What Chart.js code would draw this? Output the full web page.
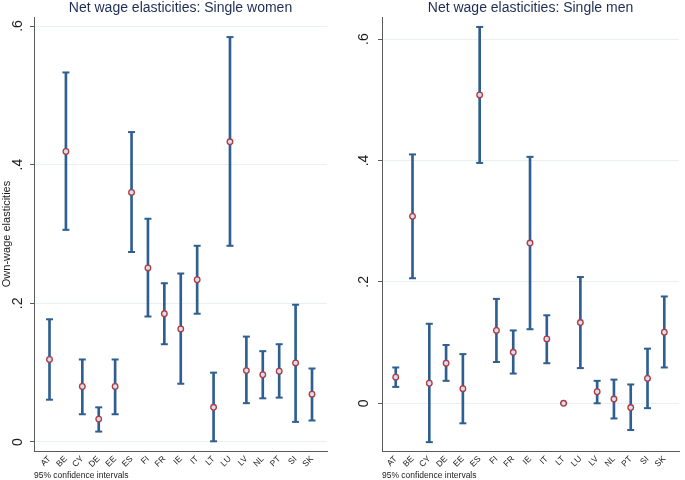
<!DOCTYPE html>
<html>
<head>
<meta charset="utf-8">
<script src="https://cdn.jsdelivr.net/npm/chart.js@4/dist/chart.umd.min.js"></script>
<style>
  html, body { margin: 0; padding: 0; background: #ffffff; }
  #wrap { position: relative; width: 685px; height: 480px; overflow: hidden; }
  #leftBox { position: absolute; left: 0; top: 0; width: 342px; height: 480px; }
  #rightBox { position: absolute; left: 342px; top: 0; width: 343px; height: 480px; }
</style>
</head>
<body>
<div id="wrap">
  <div id="leftBox"><canvas id="cWomen" width="342" height="480"></canvas></div>
  <div id="rightBox"><canvas id="cMen" width="343" height="480"></canvas></div>
</div>
<script>
// ---- data ----
const countries = ['AT','BE','CY','DE','EE','ES','FI','FR','IE','IT','LT','LU','LV','NL','PT','SI','SK'];

const womenEst = [0.119, 0.419, 0.080, 0.033, 0.080, 0.360, 0.251, 0.185, 0.163, 0.234, 0.050, 0.433, 0.103, 0.097, 0.102, 0.114, 0.069];
const womenLow = [0.061, 0.306, 0.040, 0.015, 0.040, 0.274, 0.181, 0.141, 0.084, 0.185, 0.001, 0.283, 0.056, 0.063, 0.064, 0.029, 0.031];
const womenHigh = [0.177, 0.533, 0.119, 0.050, 0.119, 0.447, 0.322, 0.229, 0.243, 0.283, 0.100, 0.584, 0.152, 0.131, 0.141, 0.198, 0.106];

const menEst = [0.043, 0.308, 0.033, 0.066, 0.024, 0.508, 0.120, 0.084, 0.264, 0.106, 0.000, 0.133, 0.019, 0.007, -0.007, 0.041, 0.117];
const menLow = [0.027, 0.206, -0.064, 0.037, -0.033, 0.396, 0.068, 0.049, 0.122, 0.066, 0.000, 0.058, 0.000, -0.025, -0.044, -0.008, 0.059];
const menHigh = [0.059, 0.410, 0.131, 0.096, 0.081, 0.620, 0.172, 0.120, 0.406, 0.145, 0.000, 0.208, 0.037, 0.039, 0.031, 0.090, 0.176];

const yTickValues = [0, 0.2, 0.4, 0.6];
const yTickLabels = ['0', '.2', '.4', '.6'];

const titleWomen = 'Net wage elasticities: Single women';
const titleMen = 'Net wage elasticities: Single men';
const yAxisTitle = 'Own-wage elasticities';
const noteText = '95% confidence intervals';

// ---- styling ----
const FONT = "'Liberation Sans', Arial, Helvetica, sans-serif";
const ERR_COLOR = '#2f5f90';
const MARK_BORDER = '#b03a45';
const MARK_FILL = '#d6dfe9';
const AXIS_COLOR = '#5a5a5a';
const GRID_COLOR = '#e8f0f0';
const TEXT_COLOR = '#1a1a1a';
const TITLE_COLOR = '#1e2d55';

function makeChart(canvasId, cfg) {
  const idx = countries.map((c, i) => i + 1);
  const bars = idx.map((x, i) => ({ x: x, y: [cfg.low[i], cfg.high[i]] }));
  const capsHigh = idx.map((x, i) => ({ x: x, y: cfg.high[i] }));
  const capsLow = idx.map((x, i) => ({ x: x, y: cfg.low[i] }));
  const points = idx.map((x, i) => ({ x: x, y: cfg.est[i] }));

  return new Chart(document.getElementById(canvasId), {
    type: 'bar',
    data: {
      datasets: [
        {
          type: 'scatter', data: points, order: 0,
          pointStyle: 'circle', pointRadius: 2.8, pointBorderWidth: 1.3,
          pointBorderColor: MARK_BORDER, pointBackgroundColor: MARK_FILL
        },
        {
          type: 'scatter', data: capsHigh, order: 1,
          pointStyle: 'line', pointRadius: 3.5, pointBorderWidth: 2,
          pointBorderColor: ERR_COLOR, pointBackgroundColor: ERR_COLOR
        },
        {
          type: 'scatter', data: capsLow, order: 1,
          pointStyle: 'line', pointRadius: 3.5, pointBorderWidth: 2,
          pointBorderColor: ERR_COLOR, pointBackgroundColor: ERR_COLOR
        },
        {
          type: 'bar', data: bars, order: 2,
          barThickness: 2, backgroundColor: ERR_COLOR, borderWidth: 0, borderSkipped: false
        }
      ]
    },
    options: {
      responsive: false,
      maintainAspectRatio: false,
      devicePixelRatio: 1,
      animation: false,
      events: [],
      layout: { padding: { left: 0, right: cfg.padRight, top: 0, bottom: 0 } },
      plugins: {
        legend: { display: false },
        tooltip: { enabled: false },
        title: {
          display: true,
          text: cfg.title,
          fullSize: false,
          color: TITLE_COLOR,
          font: { family: FONT, size: 14, weight: 'normal', lineHeight: 1.2 },
          padding: { top: 0, bottom: 0.2 }
        }
      },
      scales: {
        x: {
          type: 'linear',
          min: cfg.xMin, max: cfg.xMax,
          offset: false,
          afterBuildTicks: (scale) => { scale.ticks = idx.map(v => ({ value: v })); },
          afterFit: (scale) => { scale.height = 29; },
          ticks: {
            autoSkip: false,
            minRotation: 45, maxRotation: 45,
            padding: 1,
            color: TEXT_COLOR,
            font: { family: FONT, size: 8.5 },
            callback: (v) => countries[Math.round(v) - 1] || ''
          },
          grid: { drawOnChartArea: false, drawTicks: true, tickLength: 2, tickColor: 'rgba(0,0,0,0)' },
          border: { display: true, color: AXIS_COLOR, width: 1 },
          title: {
            display: true, text: noteText, align: 'start',
            color: TEXT_COLOR,
            font: { family: FONT, size: 8.5, lineHeight: 1.2 },
            padding: { top: 0, bottom: -0.5 }
          }
        },
        y: {
          type: 'linear',
          min: cfg.yMin, max: cfg.yMax,
          afterBuildTicks: (scale) => { scale.ticks = yTickValues.map(v => ({ value: v })); },
          afterFit: (scale) => { scale.width = cfg.yWidth; },
          ticks: {
            minRotation: 90, maxRotation: 90,
            crossAlign: 'center',
            padding: cfg.tickPad,
            color: TEXT_COLOR,
            font: { family: FONT, size: 14 },
            callback: (v) => {
              const k = yTickValues.findIndex(t => Math.abs(t - v) < 1e-9);
              return k >= 0 ? yTickLabels[k] : '';
            }
          },
          grid: { color: GRID_COLOR, lineWidth: 1, drawTicks: true, tickLength: 4, tickColor: AXIS_COLOR },
          border: { display: true, color: AXIS_COLOR, width: 1 },
          title: {
            display: cfg.showYTitle, text: yAxisTitle,
            color: TEXT_COLOR,
            font: { family: FONT, size: 11, lineHeight: 1.2 },
            padding: { top: 0, bottom: 0 }
          }
        }
      }
    }
  });
}

makeChart('cWomen', {
  title: titleWomen, est: womenEst, low: womenLow, high: womenHigh,
  yMin: -0.013, yMax: 0.613, xMin: 0.055, xMax: 17.914,
  yWidth: 34, tickPad: 6, padRight: 15, showYTitle: true
});

makeChart('cMen', {
  title: titleMen, est: menEst, low: menLow, high: menHigh,
  yMin: -0.0786, yMax: 0.6364, xMin: 0.182, xMax: 17.876,
  yWidth: 40, tickPad: 8.5, padRight: 0, showYTitle: false
});
</script>
</body>
</html>
